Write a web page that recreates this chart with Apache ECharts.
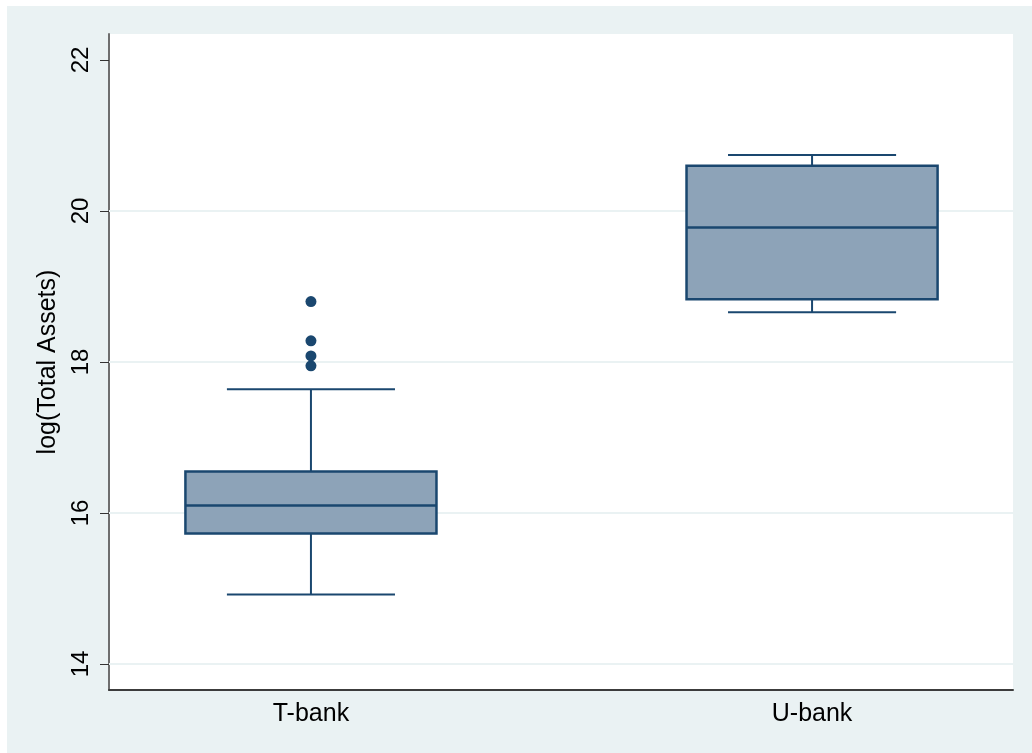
<!DOCTYPE html>
<html>
<head>
<meta charset="utf-8">
<script src="https://cdn.jsdelivr.net/npm/echarts@6/dist/echarts.min.js"></script>
<style>
  html, body { margin: 0; padding: 0; background: #ffffff; }
  #chart { position: absolute; left: 7px; top: 6px; width: 1025px; height: 747px; }
</style>
</head>
<body>
<div id="chart"></div>
<script>
// Bank groups along the horizontal axis
const categories = ['T-bank', 'U-bank'];
// Box summaries: [lower whisker, Q1, median, Q3, upper whisker] of log(Total Assets)
const tBankBox = [14.92, 15.73, 16.10, 16.55, 17.64];
const uBankBox = [18.66, 18.83, 19.78, 20.60, 20.74];
// Points beyond the upper whisker for T-bank
const tBankOutliers = [17.95, 18.08, 18.28, 18.80];
// Axis tick labels and horizontal grid lines
const yTicks = [14, 16, 18, 20, 22];
const gridValues = [14, 16, 18, 20];

const navy = '#1a476f';
const boxFill = '#8da3b8';
const font = 'Liberation Sans, Arial, sans-serif';

const boxData = [tBankBox, uBankBox].map((b, i) => [i].concat(b));

const chart = echarts.init(document.getElementById('chart'), null, { renderer: 'canvas' });

chart.setOption({
  animation: false,
  backgroundColor: '#eaf2f3',
  grid: {
    left: 102, right: 19, top: 28, bottom: 63,
    show: true, backgroundColor: '#ffffff', borderWidth: 0
  },
  xAxis: {
    type: 'value',
    min: -0.403,
    max: 1.401,
    axisLine: { show: true, onZero: false, lineStyle: { color: '#3c3c3c', width: 2 } },
    axisTick: { show: false },
    splitLine: { show: false },
    axisLabel: {
      customValues: [0, 1],
      formatter: v => categories[Math.round(v)] || '',
      color: '#000', fontSize: 25, fontFamily: font, margin: 12
    }
  },
  yAxis: {
    type: 'value',
    min: 13.656,
    max: 22.344,
    name: 'log(Total Assets)',
    nameLocation: 'middle',
    nameRotate: 90,
    nameGap: 41,
    nameTextStyle: { color: '#000', fontSize: 25, fontFamily: font },
    axisLine: { show: true, onZero: false, lineStyle: { color: '#6e6e6e', width: 2 } },
    axisTick: { show: true, customValues: yTicks, length: 9, lineStyle: { color: '#333', width: 1 } },
    splitLine: { show: false },
    axisLabel: {
      customValues: yTicks,
      rotate: 90,
      color: '#000', fontSize: 24, fontFamily: font, margin: 16
    }
  },
  series: [
    {
      // horizontal grid lines
      type: 'line',
      data: [],
      z: 1,
      silent: true,
      markLine: {
        z: 1,
        silent: true,
        symbol: 'none',
        animation: false,
        label: { show: false },
        lineStyle: { color: '#eaf2f3', width: 2, type: 'solid' },
        data: gridValues.map(v => ({ yAxis: v }))
      }
    },
    {
      type: 'custom',
      z: 10,
      data: boxData,
      encode: { x: 0, y: [1, 2, 3, 4, 5] },
      renderItem: function (params, api) {
        const x = api.value(0);
        const lo = api.value(1), q1 = api.value(2), med = api.value(3),
              q3 = api.value(4), hi = api.value(5);
        const band = api.size([1, 0])[0];
        const halfBox = band * 0.2505;
        const halfCap = band * 0.1677;
        const pLo = api.coord([x, lo]);
        const pQ1 = api.coord([x, q1]);
        const pMed = api.coord([x, med]);
        const pQ3 = api.coord([x, q3]);
        const pHi = api.coord([x, hi]);
        const cx = pMed[0];
        const lineStyle = { stroke: navy, lineWidth: 2, fill: null };
        return {
          type: 'group',
          children: [
            { type: 'line', shape: { x1: cx, y1: pLo[1], x2: cx, y2: pQ1[1] }, style: lineStyle },
            { type: 'line', shape: { x1: cx, y1: pQ3[1], x2: cx, y2: pHi[1] }, style: lineStyle },
            { type: 'line', shape: { x1: cx - halfCap, y1: pLo[1], x2: cx + halfCap, y2: pLo[1] }, style: lineStyle },
            { type: 'line', shape: { x1: cx - halfCap, y1: pHi[1], x2: cx + halfCap, y2: pHi[1] }, style: lineStyle },
            {
              type: 'rect',
              shape: { x: cx - halfBox, y: pQ3[1], width: halfBox * 2, height: pQ1[1] - pQ3[1] },
              style: { fill: boxFill, stroke: navy, lineWidth: 2.5 }
            },
            { type: 'line', shape: { x1: cx - halfBox, y1: pMed[1], x2: cx + halfBox, y2: pMed[1] }, style: { stroke: navy, lineWidth: 2.5 } }
          ]
        };
      }
    },
    {
      type: 'scatter',
      z: 11,
      symbol: 'circle',
      symbolSize: 11,
      itemStyle: { color: navy, opacity: 1 },
      data: tBankOutliers.map(v => [0, v])
    }
  ]
});
</script>
</body>
</html>
